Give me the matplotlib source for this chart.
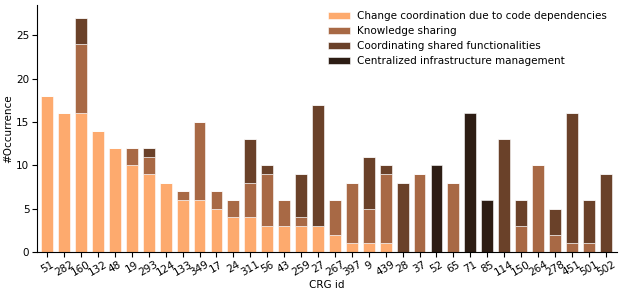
import numpy as np
import matplotlib.pyplot as plt

crg_ids = ["51", "282", "160", "132", "48", "19", "293", "124", "133", "349", "17", "24",
           "311", "56", "43", "259", "27", "267", "397", "9", "439", "28", "37", "52", "65",
           "71", "85", "114", "150", "264", "278", "451", "501", "502"]

code_deps = [18, 16, 16, 14, 12, 10, 9, 8, 6, 6, 5, 4, 4, 3, 3, 3, 3, 2, 1, 1, 1,
             0, 0, 0, 0, 0, 0, 0, 0, 0, 0, 0, 0, 0]
knowledge = [0, 0, 8, 0, 0, 2, 2, 0, 1, 9, 2, 2, 4, 6, 3, 1, 0, 4, 7, 4, 8,
             0, 9, 0, 8, 0, 0, 0, 3, 10, 2, 1, 1, 0]
shared_func = [0, 0, 3, 0, 0, 0, 1, 0, 0, 0, 0, 0, 5, 1, 0, 5, 14, 0, 0, 6, 1,
               8, 0, 0, 0, 0, 0, 13, 3, 0, 3, 15, 5, 9]
infra = [0, 0, 0, 0, 0, 0, 0, 0, 0, 0, 0, 0, 0, 0, 0, 0, 0, 0, 0, 0, 0,
         0, 0, 10, 0, 16, 6, 0, 0, 0, 0, 0, 0, 0]

labels = ["Change coordination due to code dependencies", "Knowledge sharing",
          "Coordinating shared functionalities", "Centralized infrastructure management"]
colors = ["#FDAA6E", "#A86945", "#6A4129", "#2D1D14"]

fs = 7.5
fig, ax = plt.subplots(figsize=(6.23, 2.95), dpi=100)
x = np.arange(len(crg_ids))
bottom = np.zeros(len(crg_ids))
for vals, lab, col in zip([code_deps, knowledge, shared_func, infra], labels, colors):
    ax.bar(x, vals, 0.7, bottom=bottom, color=col, label=lab,
           edgecolor="white", linewidth=0.4)
    bottom += np.array(vals)

ax.set_xticks(x)
ax.set_xticklabels(crg_ids, rotation=30, fontsize=fs)
ax.tick_params(axis="both", labelsize=fs, pad=2)
ax.set_xlim(-0.6, len(crg_ids) - 0.35)
ax.set_ylim(0, 28.5)
ax.set_xlabel("CRG id", fontsize=fs, labelpad=1)
ax.set_ylabel("#Occurrence", fontsize=fs, labelpad=2)
ax.spines["top"].set_visible(False)
ax.spines["right"].set_visible(False)
ax.legend(frameon=False, fontsize=fs, loc="upper right", handlelength=2.1,
          handletextpad=0.7, labelspacing=0.47, borderpad=0, borderaxespad=0,
          bbox_to_anchor=(0.974, 0.962), bbox_transform=fig.transFigure)

plt.subplots_adjust(left=0.0594, right=0.99, top=0.983, bottom=0.146)
plt.savefig("out.png")
